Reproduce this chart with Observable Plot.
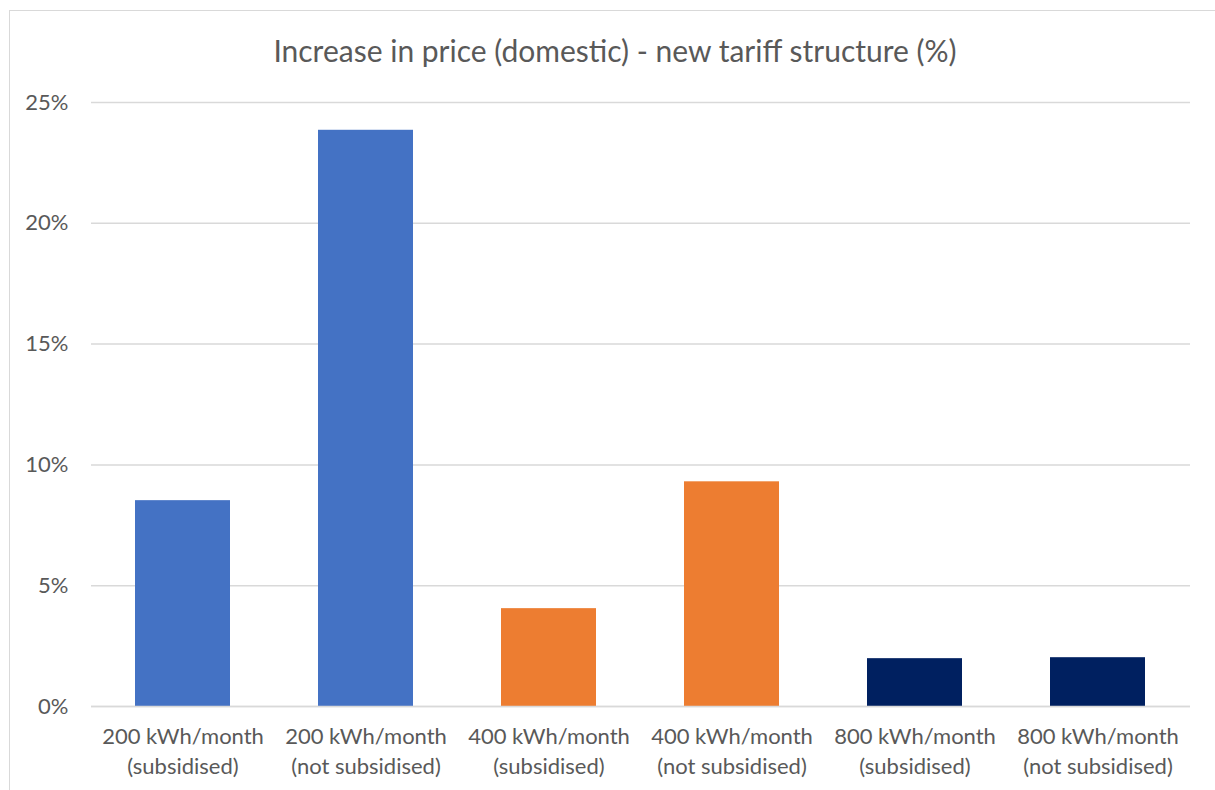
<!DOCTYPE html>
<html>
<head>
<meta charset="utf-8">
<script src="https://cdn.jsdelivr.net/npm/d3@7"></script>
<script src="https://cdn.jsdelivr.net/npm/@observablehq/plot@0.6"></script>
<style>
  html, body { margin: 0; padding: 0; background: #fff; }
  body { width: 1215px; height: 790px; position: relative; overflow: hidden; font-family: Lato, "Open Sans", sans-serif; }
  #frame { position: absolute; left: 9px; top: 10px; width: 1300px; height: 900px; border-left: 1.5px solid #d9d9d9; border-top: 1.5px solid #d9d9d9; }
  #title { position: absolute; left: 0; top: 0; width: 1230px; height: 85px; line-height: 100px; text-align: center; font-size: 30px; color: #595959; }
  #chart { position: absolute; left: 0; top: 85px; }
</style>
</head>
<body>
<div id="frame"></div>
<div id="title">Increase in price (domestic) - new tariff structure (%)</div>
<div id="chart"></div>
<script>
const categories = [
  "200 kWh/month (subsidised)",
  "200 kWh/month (not subsidised)",
  "400 kWh/month (subsidised)",
  "400 kWh/month (not subsidised)",
  "800 kWh/month (subsidised)",
  "800 kWh/month (not subsidised)"
];
const tickLabels = [
  "200 kWh/month\n(subsidised)",
  "200 kWh/month\n(not subsidised)",
  "400 kWh/month\n(subsidised)",
  "400 kWh/month\n(not subsidised)",
  "800 kWh/month\n(subsidised)",
  "800 kWh/month\n(not subsidised)"
];
const values = [8.52, 23.85, 4.05, 9.30, 1.98, 2.02];
const groups = ["200", "200", "400", "400", "800", "800"];
const groupColors = {"200": "#4472C4", "400": "#ED7D31", "800": "#002060"};
const yTicks = [0, 5, 10, 15, 20, 25];

const data = categories.map((c, i) => ({category: c, value: values[i], group: groups[i], label: tickLabels[i]}));

const chart = Plot.plot({
  width: 1215,
  height: 705,
  marginTop: 17,
  marginBottom: 84,
  marginLeft: 91,
  marginRight: 25,
  style: {fontFamily: "Lato, 'Open Sans', sans-serif", color: "#595959", background: "transparent"},
  x: {domain: categories, paddingInner: 0.48, paddingOuter: 0.24, label: null},
  y: {domain: [0, 25], label: null},
  marks: [
    Plot.gridY(yTicks, {stroke: "#d9d9d9", strokeOpacity: 1, strokeWidth: 1.5}),
    Plot.barY(data, {x: "category", y: "value", fill: d => groupColors[d.group]}),
    Plot.ruleY([0], {stroke: "#d9d9d9", strokeWidth: 1.5}),
    Plot.axisY(yTicks, {tickSize: 0, tickPadding: 23, tickFormat: d => d + "%", fontSize: 22, fill: "#595959"}),
    Plot.axisX({tickSize: 0, tickPadding: 16, tickFormat: d => tickLabels[categories.indexOf(d)], fontSize: 22, lineHeight: 1.38, fill: "#595959"})
  ]
});
document.getElementById("chart").appendChild(chart);
</script>
</body>
</html>
